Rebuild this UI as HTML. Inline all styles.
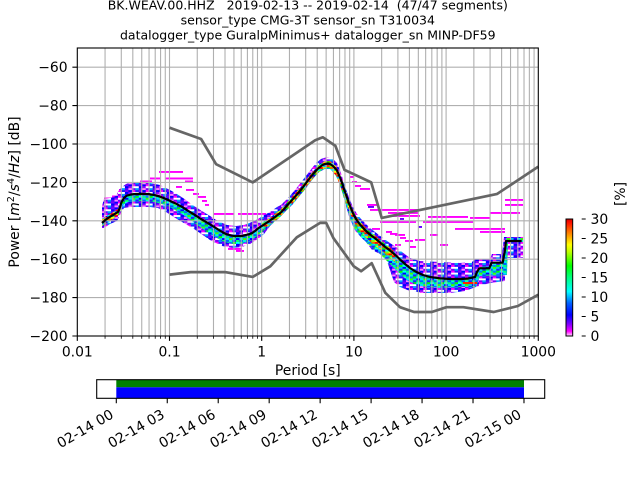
<!DOCTYPE html>
<html><head><meta charset="utf-8"><style>html,body{margin:0;padding:0;background:#fff}svg{display:block}text{font-family:"DejaVu Sans","Liberation Sans",sans-serif}</style></head><body>
<svg xmlns="http://www.w3.org/2000/svg" width="640" height="480" viewBox="0 0 640 480">
<rect width="640" height="480" fill="#fff"/>
<defs>
<pattern id="pb" width="13.88" height="5.76" patternUnits="userSpaceOnUse">
<rect x="0" y="0" width="3.6" height="2" fill="#7a00ff"/><rect x="3.47" y="0" width="3.6" height="2" fill="#0000ff"/><rect x="6.94" y="0" width="3.6" height="2" fill="#ff00ff"/><rect x="10.41" y="0" width="3.6" height="2" fill="#2020ff"/>
<rect x="0" y="1.92" width="3.6" height="2" fill="#0000ff"/><rect x="3.47" y="1.92" width="3.6" height="2" fill="#9000ff"/><rect x="6.94" y="1.92" width="3.6" height="2" fill="#ffffff"/><rect x="10.41" y="1.92" width="3.6" height="2" fill="#ffffff"/>
<rect x="0" y="3.84" width="3.6" height="2" fill="#5000ff"/><rect x="3.47" y="3.84" width="3.6" height="2" fill="#ff80ff"/><rect x="6.94" y="3.84" width="3.6" height="2" fill="#7a00ff"/><rect x="10.41" y="3.84" width="3.6" height="2" fill="#00a0ff"/>
</pattern>
<pattern id="pc" width="13.88" height="5.76" patternUnits="userSpaceOnUse">
<rect x="0" y="0" width="3.6" height="2" fill="#00ffff"/><rect x="3.47" y="0" width="3.6" height="2" fill="#00ff80"/><rect x="6.94" y="0" width="3.6" height="2" fill="#0080ff"/><rect x="10.41" y="0" width="3.6" height="2" fill="#00ff00"/>
<rect x="0" y="1.92" width="3.6" height="2" fill="#0000ff"/><rect x="3.47" y="1.92" width="3.6" height="2" fill="#00e0ff"/><rect x="6.94" y="1.92" width="3.6" height="2" fill="#40ff00"/><rect x="10.41" y="1.92" width="3.6" height="2" fill="#00c0ff"/>
<rect x="0" y="3.84" width="3.6" height="2" fill="#00ff60"/><rect x="3.47" y="3.84" width="3.6" height="2" fill="#0060ff"/><rect x="6.94" y="3.84" width="3.6" height="2" fill="#00ffd0"/><rect x="10.41" y="3.84" width="3.6" height="2" fill="#2020ff"/>
</pattern>
<pattern id="ph" width="13.88" height="5.76" patternUnits="userSpaceOnUse">
<rect x="0" y="0" width="3.6" height="2" fill="#ff0000"/><rect x="3.47" y="0" width="3.6" height="2" fill="#ffd000"/><rect x="6.94" y="0" width="3.6" height="2" fill="#00ff00"/><rect x="10.41" y="0" width="3.6" height="2" fill="#ff6000"/>
<rect x="0" y="1.92" width="3.6" height="2" fill="#00ff80"/><rect x="3.47" y="1.92" width="3.6" height="2" fill="#ff0000"/><rect x="6.94" y="1.92" width="3.6" height="2" fill="#0000ff"/><rect x="10.41" y="1.92" width="3.6" height="2" fill="#00ffff"/>
<rect x="0" y="3.84" width="3.6" height="2" fill="#ffff00"/><rect x="3.47" y="3.84" width="3.6" height="2" fill="#00c0ff"/><rect x="6.94" y="3.84" width="3.6" height="2" fill="#ff3000"/><rect x="10.41" y="3.84" width="3.6" height="2" fill="#80ff00"/>
</pattern>
<linearGradient id="cb" x1="0" y1="1" x2="0" y2="0">
<stop offset="0" stop-color="#ffe0ff"/><stop offset="0.04" stop-color="#ff00ff"/><stop offset="0.1" stop-color="#8000ff"/><stop offset="0.18" stop-color="#0000ff"/><stop offset="0.28" stop-color="#0060ff"/><stop offset="0.38" stop-color="#00ffff"/><stop offset="0.5" stop-color="#00ff80"/><stop offset="0.6" stop-color="#00ff00"/><stop offset="0.72" stop-color="#c0ff00"/><stop offset="0.78" stop-color="#ffff00"/><stop offset="0.88" stop-color="#ff8000"/><stop offset="0.97" stop-color="#ff1000"/><stop offset="1" stop-color="#d00000"/>
</linearGradient>
</defs>

<!-- sparse cells -->
<g fill="#ff00ff">
<rect x="159" y="171" width="24" height="1.92"/><rect x="150" y="177.5" width="10" height="1.92"/><rect x="165" y="177.5" width="28" height="1.92"/><rect x="140" y="180.5" width="12" height="1.92"/><rect x="185" y="180.5" width="8" height="1.92"/>
<rect x="104" y="197.5" width="10" height="1.92"/><rect x="112" y="195.5" width="4" height="1.92"/><rect x="119" y="189" width="4" height="1.92"/>
<rect x="176" y="186" width="6" height="1.92"/><rect x="186" y="189" width="8" height="1.92"/><rect x="193" y="193" width="6" height="1.92"/><rect x="198" y="196" width="8" height="1.92"/><rect x="202" y="200" width="5" height="1.92"/><rect x="205" y="204" width="4" height="1.92"/>
<rect x="214" y="213" width="20" height="1.92"/><rect x="238" y="213" width="28" height="1.92"/>
<rect x="228" y="248" width="14" height="1.92"/><rect x="236" y="250" width="8" height="1.92"/>
<rect x="350" y="176" width="4" height="1.92"/><rect x="352" y="181" width="5" height="1.92"/><rect x="355" y="185" width="6" height="1.92"/><rect x="360" y="188" width="10" height="1.92"/>
<rect x="367" y="204" width="12" height="1.92"/><rect x="370" y="209" width="50" height="1.92"/><rect x="388" y="212" width="30" height="1.92"/>
<rect x="380" y="221" width="36" height="1.92"/><rect x="372" y="228" width="8" height="1.92"/><rect x="386" y="231" width="6" height="1.92"/><rect x="395" y="234" width="10" height="1.92"/><rect x="372" y="238" width="6" height="1.92"/><rect x="382" y="243" width="5" height="1.92"/><rect x="405" y="240" width="8" height="1.92"/><rect x="410" y="246" width="6" height="1.92"/>
<rect x="505" y="199" width="18" height="1.92"/><rect x="505" y="204" width="18" height="1.92"/><rect x="490" y="212" width="30" height="1.92"/><rect x="390" y="215" width="30" height="1.92"/><rect x="428" y="216" width="40" height="1.92"/><rect x="470" y="217" width="20" height="1.92"/><rect x="423" y="221" width="50" height="1.92"/><rect x="455" y="228" width="50" height="1.92"/><rect x="480" y="231" width="25" height="1.92"/>
<rect x="390" y="233" width="8" height="1.92"/><rect x="400" y="237" width="6" height="1.92"/><rect x="415" y="239" width="10" height="1.92"/><rect x="430" y="234" width="8" height="1.92"/><rect x="440" y="244" width="8" height="1.92"/><rect x="395" y="244" width="6" height="1.92"/><rect x="420" y="291" width="27" height="1.92"/>
</g>
<g fill="#6000ff">
<rect x="368" y="206" width="6" height="1.92"/><rect x="400" y="218" width="4" height="1.92"/><rect x="418" y="226" width="4" height="1.92"/><rect x="104" y="200" width="4" height="1.92"/><rect x="130" y="186" width="4" height="1.92"/>
</g>

<!-- main band -->
<polygon fill="url(#pb)" points="102,206 104,199 110,198 116,196 119,190 122,187 126,184 132,182 145,182 160,185 170,190 177,194 186,200 194,206 202,211 210,216 218,221 227,225 236,226 244,225 252,222 258,219 264,215 270,212 277,207 281,205 288,198 295,190 302,181 309,172 316,163 321,159 327,157 332,158 337,163 341,173 344,183 347,192 350,200 353,207 357,214 362,220 368,226 375,232 383,238 390,243 396,247 402,252 410,258 420,261 440,262 460,263 472,262 475,259 490,259 492,254 502,254 504,237 523,237 523,258 505,258 505,281 490,283 476,287 465,291 450,293 425,293 410,291 400,287 394,282 390,270 386,258 380,254 372,250 366,242 360,236 356,232 352,224 349,216 346,206 343,195 340,185 337,177 333,170 328,168 323,169 318,173 312,180 306,188 299,196 292,204 285,212 278,219 270,226 264,234 258,239 250,244 242,247 232,248 222,246 210,240 194,229 177,219 166,212 158,208 150,207 140,207 130,207 124,208 121,213 117,221 110,224 104,228 102,228"/>
<!-- core -->
<polygon fill="url(#pc)" points="102,221 110,215 118,209 121,200 126,195 140,195 155,196 165,200 180,207 195,216 210,226 222,233 232,237 242,237 252,234 260,228 268,222 278,214 290,202 302,188 312,175 320,166 327,162 333,164 338,171 342,182 346,195 350,206 355,216 362,224 372,233 385,244 395,253 405,264 418,274 430,278 450,280 470,279 476,272 480,267 492,266 494,262 504,262 506,238 523,238 523,242 508,242 507,275 480,276 476,287 460,287 440,288 420,286 408,281 398,272 388,262 378,252 368,244 360,236 354,228 350,218 347,208 343,195 339,182 335,174 330,169 325,169 319,172 312,180 303,192 293,204 283,214 272,224 262,232 252,240 242,244 232,244 222,241 210,234 196,224 182,214 168,206 155,202 140,201 128,202 122,206 119,214 112,220 106,224 102,226"/>
<!-- hot cells -->
<polygon fill="url(#ph)" points="102,219 106,216 112,213 118,209 119,215 113,219 107,223 102,226"/>
<polygon fill="url(#ph)" points="262,223 270,217.5 280,210 290,199.3 300,188 310,175 318,165.5 325,161 330,161 336,166 340,175 344,186 348,197.5 352,207.7 356,216 362,223.7 370,231.5 380,239.5 390,247.5 395,252 395,262 390,257.5 380,249.5 370,241.5 362,233.7 356,226 352,217.7 348,207.5 344,196 340,185 336,176 330,168 325,168 318,172.5 310,182 300,195 290,206.3 280,217 270,224.5 262,230"/>
<rect x="463" y="282" width="14" height="2" fill="#ff2000"/>

<!-- grid -->
<path fill="none" stroke="#b0b0b0" stroke-width="1.1" d="M105.06 48V336M121.29 48V336M132.81 48V336M141.74 48V336M149.05 48V336M155.22 48V336M160.57 48V336M165.28 48V336M169.5 48V336M197.26 48V336M213.49 48V336M225.01 48V336M233.94 48V336M241.25 48V336M247.42 48V336M252.77 48V336M257.48 48V336M261.7 48V336M289.46 48V336M305.69 48V336M317.21 48V336M326.14 48V336M333.45 48V336M339.62 48V336M344.97 48V336M349.68 48V336M353.9 48V336M381.66 48V336M397.89 48V336M409.41 48V336M418.34 48V336M425.65 48V336M431.82 48V336M437.17 48V336M441.88 48V336M446.1 48V336M473.86 48V336M490.09 48V336M501.61 48V336M510.54 48V336M517.85 48V336M524.02 48V336M529.37 48V336M534.08 48V336M77.3 67.2H538.3M77.3 105.6H538.3M77.3 144H538.3M77.3 182.4H538.3M77.3 220.8H538.3M77.3 259.2H538.3M77.3 297.6H538.3"/>

<!-- noise models -->
<polyline fill="none" stroke="#666" stroke-width="2.7" stroke-linejoin="round" points="169.5,127.7 201.1,139 216.1,164.2 252.8,182.4 315.2,140.2 322.8,137.3 335.4,145.9 344.5,169.9 371.2,182.4 381.7,217.9 497.2,193.9 538.3,166.6"/>
<polyline fill="none" stroke="#666" stroke-width="2.7" stroke-linejoin="round" points="169.5,274.6 190.7,272.1 225,272.1 252.8,276.9 270.3,266.3 296.8,237.3 320.1,222.9 326.2,222.9 333.4,238.1 353.9,266.4 361.2,271.2 371.7,263.2 385.3,292.8 400,307.2 414.1,312 431.8,312 446.5,307.2 463.4,307.2 493.7,312 517.9,306 538.3,294.7"/>

<!-- mean -->
<polyline fill="none" stroke="#000" stroke-width="2.2" stroke-linejoin="round" points="102,223 106,219.5 110,216.7 114,214.5 118.3,211.7 120,207 121.7,201.7 124,198 126.7,195.7 131,194.5 135,194 141,193.8 148.3,194 153,194.8 158.3,196 163,197.8 168.3,200 175,203.2 181.7,206.7 188,210.8 195,215 201,219 208.3,223.3 215,227.5 221.7,231.7 226,234 231.7,235.7 236,236.2 241.7,236 246,235 251.7,233.3 255,231 258,228.5 263.3,225 268.3,221.7 275,217 281.7,211.7 288,204.5 295,196.7 302,188.5 308.3,180 313,174 318.3,168.3 322,165.3 325,164 328,163.5 330,164 333,166 336.7,170 339,175 341.7,181.7 344,189 346.7,196.7 349,203.5 351.7,210 354,215.5 356.7,220 360,224.5 365,230 370,234.5 375,238.3 380,242.5 385,246.7 390,250.5 393.3,253.3 397,256.5 400,259.5 405,264 410,268 416,271.8 423,275 430,277 440,278.3 450,279 461.7,279 468,278.5 475,277 477,272 479.3,268.3 489.3,268.3 491.5,262.7 502.7,262.7 505,250 506,241 521.7,241"/>

<!-- axes frame -->
<rect x="77.3" y="48" width="461" height="288" fill="none" stroke="#000" stroke-width="1.1"/>
<!-- ticks -->
<path fill="none" stroke="#000" stroke-width="1.1" d="M77.3 336v4.9M169.5 336v4.9M261.7 336v4.9M353.9 336v4.9M446.1 336v4.9M538.3 336v4.9M72.4 67.2h4.9M72.4 105.6h4.9M72.4 144h4.9M72.4 182.4h4.9M72.4 220.8h4.9M72.4 259.2h4.9M72.4 297.6h4.9M72.4 336h4.9"/>
<path fill="none" stroke="#000" stroke-width="0.8" d="M105.06 336v2.8M121.29 336v2.8M132.81 336v2.8M141.74 336v2.8M149.05 336v2.8M155.22 336v2.8M160.57 336v2.8M165.28 336v2.8M197.26 336v2.8M213.49 336v2.8M225.01 336v2.8M233.94 336v2.8M241.25 336v2.8M247.42 336v2.8M252.77 336v2.8M257.48 336v2.8M289.46 336v2.8M305.69 336v2.8M317.21 336v2.8M326.14 336v2.8M333.45 336v2.8M339.62 336v2.8M344.97 336v2.8M349.68 336v2.8M381.66 336v2.8M397.89 336v2.8M409.41 336v2.8M418.34 336v2.8M425.65 336v2.8M431.82 336v2.8M437.17 336v2.8M441.88 336v2.8M473.86 336v2.8M490.09 336v2.8M501.61 336v2.8M510.54 336v2.8M517.85 336v2.8M524.02 336v2.8M529.37 336v2.8M534.08 336v2.8"/>

<!-- tick labels -->
<g font-size="13.9" fill="#000" text-anchor="end">
<text x="67.6" y="72.2">−60</text><text x="67.6" y="110.6">−80</text><text x="67.6" y="149">−100</text><text x="67.6" y="187.4">−120</text><text x="67.6" y="225.8">−140</text><text x="67.6" y="264.2">−160</text><text x="67.6" y="302.6">−180</text><text x="67.6" y="341">−200</text>
</g>
<g font-size="13.9" fill="#000" text-anchor="middle">
<text x="77.3" y="356.3">0.01</text><text x="169.5" y="356.3">0.1</text><text x="261.7" y="356.3">1</text><text x="353.9" y="356.3">10</text><text x="446.1" y="356.3">100</text><text x="538.3" y="356.3">1000</text>
<text x="307.8" y="375.2">Period [s]</text>
</g>
<text font-size="13.9" text-anchor="middle" transform="translate(19,192) rotate(-90)">Power [<tspan font-style="italic">m</tspan><tspan font-size="9.7" dy="-5">2</tspan><tspan dy="5">/</tspan><tspan font-style="italic">s</tspan><tspan font-size="9.7" dy="-5">4</tspan><tspan dy="5">/</tspan><tspan font-style="italic">Hz</tspan>] [dB]</text>

<!-- title -->
<g font-size="12.5" text-anchor="middle">
<text x="307.8" y="9.7">BK.WEAV.00.HHZ &#160; 2019-02-13 -- 2019-02-14 &#160;(47/47 segments)</text>
<text x="307.8" y="24.7">sensor_type CMG-3T sensor_sn T310034</text>
<text x="307.8" y="39.7">datalogger_type GuralpMinimus+ datalogger_sn MINP-DF59</text>
</g>

<!-- colorbar -->
<rect x="566" y="219" width="6.7" height="117" fill="url(#cb)" stroke="#000" stroke-width="1"/>
<path fill="none" stroke="#000" stroke-width="1.1" d="M581.7 336h4M581.7 316.5h4M581.7 297h4M581.7 277.5h4M581.7 258h4M581.7 238.5h4M581.7 219h4"/>
<g font-size="13.9" fill="#000">
<text x="590.5" y="341">0</text><text x="590.5" y="321.5">5</text><text x="590.5" y="302">10</text><text x="590.5" y="282.5">15</text><text x="590.5" y="263">20</text><text x="590.5" y="243.5">25</text><text x="590.5" y="224">30</text>
</g>
<text font-size="13.9" text-anchor="middle" transform="translate(625,194) rotate(-90)">[%]</text>

<!-- time coverage -->
<rect x="116.3" y="379.7" width="407.7" height="7.6" fill="#008000"/>
<rect x="116.3" y="387.3" width="407.7" height="11" fill="#0000ff"/>
<rect x="96.7" y="379.7" width="448" height="18.6" fill="none" stroke="#000" stroke-width="1.1"/>
<path fill="none" stroke="#000" stroke-width="1.1" d="M116.3 398.3v4.9M167.26 398.3v4.9M218.22 398.3v4.9M269.18 398.3v4.9M320.14 398.3v4.9M371.1 398.3v4.9M422.06 398.3v4.9M473.02 398.3v4.9M523.98 398.3v4.9"/>
<g font-size="13.9" text-anchor="end">
<text transform="translate(114.6,417.2) rotate(-30)">02-14 00</text>
<text transform="translate(165.56,417.2) rotate(-30)">02-14 03</text>
<text transform="translate(216.52,417.2) rotate(-30)">02-14 06</text>
<text transform="translate(267.48,417.2) rotate(-30)">02-14 09</text>
<text transform="translate(318.44,417.2) rotate(-30)">02-14 12</text>
<text transform="translate(369.4,417.2) rotate(-30)">02-14 15</text>
<text transform="translate(420.36,417.2) rotate(-30)">02-14 18</text>
<text transform="translate(471.32,417.2) rotate(-30)">02-14 21</text>
<text transform="translate(522.28,417.2) rotate(-30)">02-15 00</text>
</g>
</svg>
</body></html>
